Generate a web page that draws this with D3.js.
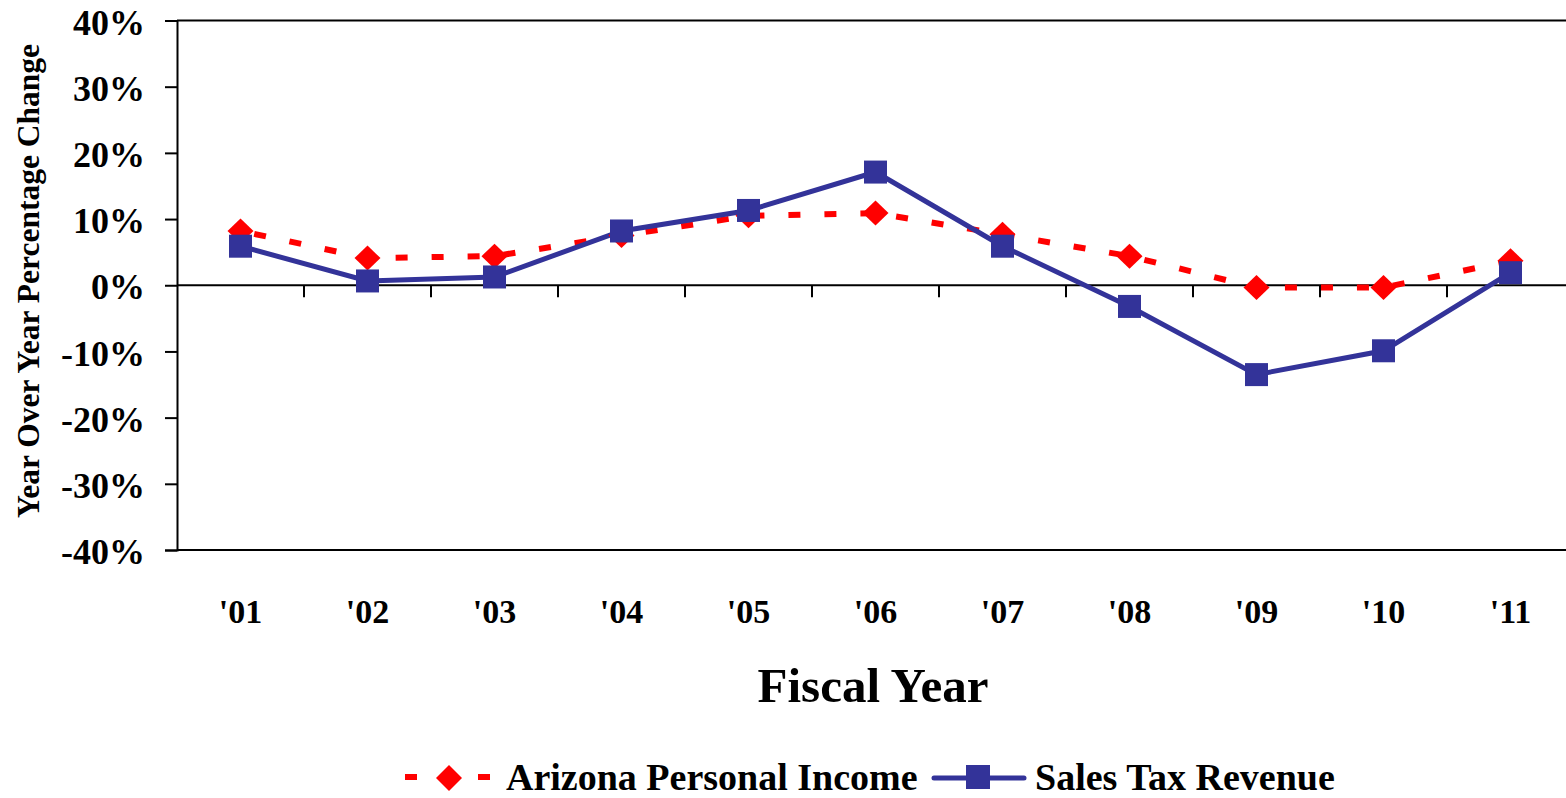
<!DOCTYPE html>
<html>
<head>
<meta charset="utf-8">
<script src="https://cdn.jsdelivr.net/npm/d3@7"></script>
<style>
  html, body { margin: 0; padding: 0; background: #fff; overflow: hidden; }
  svg { display: block; }
</style>
</head>
<body>
<svg width="1566" height="798" viewBox="0 0 1566 798"></svg>
<script>
const years = ["'01", "'02", "'03", "'04", "'05", "'06", "'07", "'08", "'09", "'10", "'11"];
const personalIncome = [8.2, 4.1, 4.4, 7.5, 10.5, 10.9, 7.7, 4.4, -0.35, -0.35, 3.7];
const salesTax = [5.9, 0.65, 1.25, 8.2, 11.3, 17.1, 5.9, -3.2, -13.5, -9.9, 1.9];
const yTicks = [40, 30, 20, 10, 0, -10, -20, -30, -40];

const FONT = '"Liberation Serif", "Times New Roman", serif';
const svg = d3.select('svg');
const margin = {left: 177, top: 20.5, right: -8, bottom: 248};
const width = +svg.attr('width');
const height = +svg.attr('height');
const innerWidth = width - margin.left - margin.right;
const innerHeight = height - margin.top - margin.bottom;

const xScale = d3.scaleBand().domain(years).range([0, innerWidth]);
const xMid = d => xScale(d) + xScale.bandwidth() / 2;
const yScale = d3.scaleLinear().domain([-40, 40]).range([innerHeight, 0]);

const label = (sel, size) => sel.attr('font-family', FONT).attr('font-weight', 'bold')
  .attr('font-size', size).attr('fill', '#000');

const g = svg.append('g').attr('transform', `translate(${margin.left},${margin.top})`);

// y axis with outer ticks
const yAxis = g.append('g')
  .call(d3.axisLeft(yScale).tickValues(yTicks).tickSize(12).tickPadding(20).tickFormat(d => d + '%'));
yAxis.select('.domain').attr('stroke', '#000').attr('stroke-width', 2);
yAxis.selectAll('.tick line').attr('stroke', '#000').attr('stroke-width', 2);
label(yAxis.selectAll('.tick text'), 36).attr('dy', '0.38em');

// top & bottom frame lines
[40, -40].forEach(v => {
  g.append('line').attr('x1', 0).attr('x2', width - margin.left)
    .attr('y1', yScale(v)).attr('y2', yScale(v))
    .attr('stroke', '#000').attr('stroke-width', 2);
});

// zero line with category ticks
g.append('line').attr('x1', 0).attr('x2', width - margin.left)
  .attr('y1', yScale(0)).attr('y2', yScale(0))
  .attr('stroke', '#000').attr('stroke-width', 2);
g.selectAll('.xtick').data(years.slice(1)).enter().append('line')
  .attr('x1', d => xScale(d)).attr('x2', d => xScale(d))
  .attr('y1', yScale(0)).attr('y2', yScale(0) + 12)
  .attr('stroke', '#000').attr('stroke-width', 2);

// category labels below the plot
label(g.selectAll('.xlabel').data(years).enter().append('text'), 34)
  .attr('x', xMid).attr('y', 623 - margin.top)
  .attr('text-anchor', 'middle').text(d => d);

// titles
label(svg.append('text'), 49).attr('x', 873).attr('y', 702).attr('text-anchor', 'middle')
  .text('Fiscal Year');
label(svg.append('text'), 31.5).attr('transform', 'translate(39,281) rotate(-90)').attr('text-anchor', 'middle')
  .text('Year Over Year Percentage Change');

// series
const line = vals => d3.line().x((d, i) => xMid(years[i])).y(d => yScale(d))(vals);

g.append('path').attr('d', line(personalIncome)).attr('fill', 'none')
  .attr('stroke', '#FF0000').attr('stroke-width', 6).attr('stroke-dasharray', '12,24')
  .attr('stroke-dashoffset', -14);
g.append('path').attr('d', line(salesTax)).attr('fill', 'none')
  .attr('stroke', '#333399').attr('stroke-width', 5);

const diamond = (cx, cy, w, h) => `M${cx},${cy - h / 2}L${cx + w / 2},${cy}L${cx},${cy + h / 2}L${cx - w / 2},${cy}Z`;

g.selectAll('.inc').data(personalIncome).enter().append('path')
  .attr('d', (d, i) => diamond(xMid(years[i]), yScale(d), 26, 25)).attr('fill', '#FF0000');
g.selectAll('.tax').data(salesTax).enter().append('rect')
  .attr('x', (d, i) => xMid(years[i]) - 11.5).attr('y', d => yScale(d) - 11.5)
  .attr('width', 23).attr('height', 23).attr('fill', '#333399');

// legend
const lg = svg.append('g');
lg.append('line').attr('x1', 405).attr('x2', 490).attr('y1', 777).attr('y2', 777)
  .attr('stroke', '#FF0000').attr('stroke-width', 6).attr('stroke-dasharray', '12,61');
lg.append('path').attr('d', diamond(449, 778, 26, 26)).attr('fill', '#FF0000');
label(lg.append('text'), 38).attr('x', 506).attr('y', 790).text('Arizona Personal Income');
lg.append('line').attr('x1', 934).attr('x2', 1024).attr('y1', 778).attr('y2', 778)
  .attr('stroke', '#333399').attr('stroke-width', 5).attr('stroke-linecap', 'round');
lg.append('rect').attr('x', 966).attr('y', 765).attr('width', 24).attr('height', 24).attr('fill', '#333399');
label(lg.append('text'), 38).attr('x', 1035).attr('y', 790).text('Sales Tax Revenue');
</script>
</body>
</html>
